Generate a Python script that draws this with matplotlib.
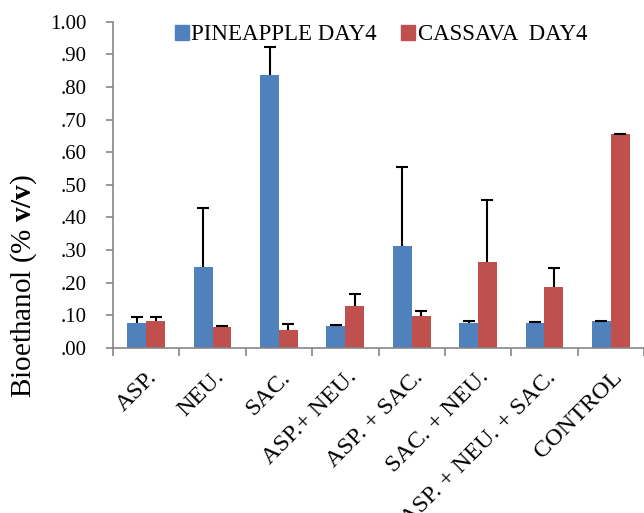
import numpy as np
import matplotlib
matplotlib.use("Agg")
import matplotlib.pyplot as plt
import matplotlib.transforms as mtransforms
from matplotlib.patches import Patch
from matplotlib.ticker import FixedLocator, FuncFormatter

categories = ["ASP.", "NEU.", "SAC.", "ASP.+ NEU.", "ASP. + SAC.",
              "SAC. + NEU.", "ASP. + NEU. + SAC.", "CONTROL"]
pineapple = [0.077, 0.248, 0.836, 0.068, 0.312, 0.075, 0.077, 0.081]
pineapple_err = [0.018, 0.180, 0.085, 0.002, 0.243, 0.007, 0.003, 0.001]
cassava = [0.083, 0.064, 0.054, 0.128, 0.098, 0.262, 0.186, 0.656]
cassava_err = [0.010, 0.004, 0.018, 0.038, 0.016, 0.191, 0.059, 0.001]
series_names = ["PINEAPPLE DAY4", "CASSAVA  DAY4"]

blue = "#4F81BD"
red = "#C0504D"
grey = "#868686"

plt.rcParams["font.family"] = ["Liberation Serif", "DejaVu Serif"]
plt.rcParams["mathtext.fontset"] = "custom"
plt.rcParams["mathtext.rm"] = "Liberation Serif"
plt.rcParams["mathtext.bf"] = "Liberation Serif:bold"

fig = plt.figure(figsize=(6.44, 5.13), dpi=100)
ax = fig.add_axes([0.1755, 0.3222, 0.8245, 0.6355])

x = np.arange(len(categories))
w = 0.284
ax.bar(x - w / 2, pineapple, w, color=blue, zorder=2)
ax.bar(x + w / 2, cassava, w, color=red, zorder=2)

# only the upper half of each error bar, so hide the lower caps
for xs, vals, errs in [(x - w / 2, pineapple, pineapple_err), (x + w / 2, cassava, cassava_err)]:
    eb = ax.errorbar(xs, vals, yerr=[np.zeros(len(x)), errs], fmt="none", ecolor="black",
                     elinewidth=1.5, capsize=4, capthick=1.5, zorder=3)
    eb[1][0].set_visible(False)

ax.set_xlim(-0.5, len(categories) - 0.5)
ax.set_ylim(0, 1.0)

# y axis ticks like ".90"
ax.set_yticks(np.arange(0, 1.01, 0.1))
ax.yaxis.set_major_formatter(FuncFormatter(lambda v, p: f"{v:.2f}".lstrip("0") if v < 0.995 else f"{v:.2f}"))
ax.tick_params(axis="y", direction="out", length=5, color=grey, width=1.2, pad=14, labelsize=15)

# x axis: labels at centers, tick marks between groups
ax.set_xticks(x)
ax.set_xticklabels(categories, rotation=45, ha="right", va="center", rotation_mode="anchor")
ax.tick_params(axis="x", which="major", length=0, pad=19, labelsize=17.5)
shift = mtransforms.ScaledTranslation(8 / 100, 0, fig.dpi_scale_trans)
for lbl in ax.get_xticklabels():
    lbl.set_transform(lbl.get_transform() + shift)
ax.xaxis.set_minor_locator(FixedLocator(np.arange(-0.5, len(categories), 1.0)))
ax.tick_params(axis="x", which="minor", direction="out", length=6, color=grey, width=1.2)

for s in ["top", "right"]:
    ax.spines[s].set_visible(False)
for s in ["left", "bottom"]:
    ax.spines[s].set_color(grey)
    ax.spines[s].set_linewidth(1.2)

handles = [Patch(color=blue), Patch(color=red)]
fig.legend(handles, series_names, loc="center", bbox_to_anchor=(0.5916, 0.932), ncol=2,
           frameon=False, fontsize=16.5, handlelength=0.61, handleheight=0.61,
           handletextpad=0.12, columnspacing=1.05)

fig.text(0.037, 0.443, r"Bioethanol (% $\mathbf{v/v}$)", rotation=90,
         ha="center", va="center", fontsize=21)

fig.savefig("out.png", dpi=100)
